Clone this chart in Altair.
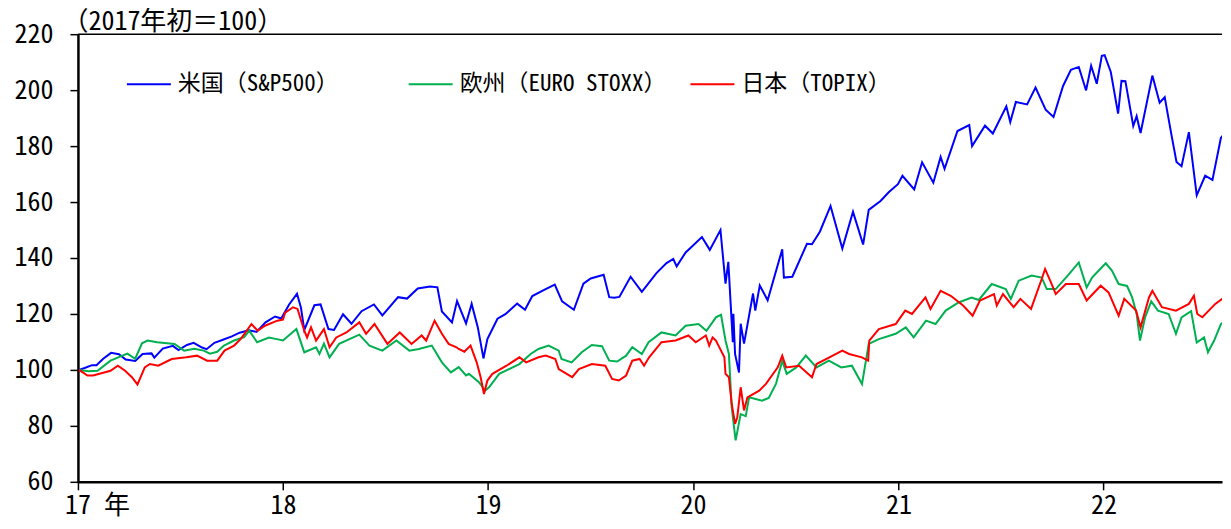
import altair as alt
import pandas as pd

FONT = "Noto Sans Mono CJK JP, Noto Sans CJK JP"

names = ["米国（S&P500）", "欧州（EURO STOXX）", "日本（TOPIX）"]
colors = ["#0000FF", "#00B050", "#FF0000"]
y_ticks = [60, 80, 100, 120, 140, 160, 180, 200, 220]
frame_top = [220]

us_dates = ["2017-01-03", "2017-01-13", "2017-01-26", "2017-02-03", "2017-02-15", "2017-03-01", "2017-03-15",
            "2017-03-27", "2017-04-13", "2017-04-26", "2017-05-12", "2017-05-17", "2017-06-01", "2017-06-19",
            "2017-06-29", "2017-07-14", "2017-07-26", "2017-08-10", "2017-08-18", "2017-09-01", "2017-09-15",
            "2017-10-02", "2017-10-16", "2017-11-01", "2017-11-15", "2017-12-01", "2017-12-18", "2017-12-29",
            "2018-01-12", "2018-01-26", "2018-02-02", "2018-02-08", "2018-02-26", "2018-03-09", "2018-03-23",
            "2018-04-02", "2018-04-18", "2018-05-03", "2018-05-21", "2018-06-12", "2018-06-27", "2018-07-25",
            "2018-08-10", "2018-08-29", "2018-09-20", "2018-10-03", "2018-10-11", "2018-10-29", "2018-11-07",
            "2018-11-23", "2018-12-03", "2018-12-14", "2018-12-24", "2018-12-31", "2019-01-18", "2019-02-01",
            "2019-02-22", "2019-03-08", "2019-03-21", "2019-04-12", "2019-04-30", "2019-05-13", "2019-06-03",
            "2019-06-20", "2019-07-03", "2019-07-26", "2019-08-05", "2019-08-14", "2019-08-23", "2019-09-12",
            "2019-10-02", "2019-10-28", "2019-11-15", "2019-11-27", "2019-12-03", "2019-12-19", "2019-12-27",
            "2020-01-17", "2020-01-31", "2020-02-19", "2020-02-28", "2020-03-04", "2020-03-12", "2020-03-13",
            "2020-03-16", "2020-03-23", "2020-03-26", "2020-04-01", "2020-04-17", "2020-04-21", "2020-04-29",
            "2020-05-13", "2020-06-08", "2020-06-11", "2020-06-26", "2020-07-22", "2020-07-31", "2020-08-14",
            "2020-09-02", "2020-09-23", "2020-10-12", "2020-10-30", "2020-11-09", "2020-11-30", "2020-12-15",
            "2020-12-31", "2021-01-08", "2021-01-29", "2021-02-12", "2021-03-04", "2021-03-17", "2021-03-24",
            "2021-04-16", "2021-05-07", "2021-05-12", "2021-06-04", "2021-06-18", "2021-07-12", "2021-07-19",
            "2021-07-29", "2021-08-18", "2021-09-02", "2021-09-20", "2021-10-04", "2021-10-21", "2021-11-04",
            "2021-11-18", "2021-12-01", "2021-12-10", "2021-12-20", "2021-12-29", "2022-01-03", "2022-01-14",
            "2022-01-27", "2022-02-02", "2022-02-09", "2022-02-23", "2022-03-01", "2022-03-08", "2022-03-29",
            "2022-04-11", "2022-04-20", "2022-05-02", "2022-05-11", "2022-05-20", "2022-06-02", "2022-06-16",
            "2022-07-01", "2022-07-14", "2022-07-29", "2022-08-11", "2022-08-16"]
us_vals = [100.0, 100.7, 101.7, 101.7, 104.0, 106.1, 105.6,
           103.7, 103.2, 105.7, 105.9, 104.4, 107.6, 108.6,
           107.1, 108.9, 109.7, 108.0, 107.4, 109.7, 110.7,
           112.0, 113.3, 114.2, 113.6, 117.0, 119.1, 118.4,
           123.4, 127.2, 122.3, 114.3, 123.1, 123.4, 114.6,
           114.3, 119.9, 116.5, 121.0, 123.4, 119.5, 126.0,
           125.5, 129.1, 129.8, 129.5, 120.9, 117.0, 124.6,
           116.6, 123.6, 115.2, 104.1, 111.0, 118.3, 119.9,
           123.7, 121.5, 126.4, 128.7, 130.5, 124.5, 121.5,
           130.8, 132.7, 134.0, 126.0, 125.8, 126.1, 133.3,
           127.9, 134.6, 138.2, 139.7, 137.0, 142.0, 143.5,
           147.5, 142.9, 150.0, 130.8, 138.6, 109.9, 120.1,
           105.7, 99.1, 116.5, 109.4, 127.3, 121.2, 130.2,
           124.9, 143.1, 133.0, 133.3, 145.1, 144.9, 149.4,
           158.6, 143.4, 156.5, 144.8, 157.2, 160.4, 163.6,
           166.4, 169.4, 164.5, 174.2, 166.9, 176.1, 171.9,
           185.4, 187.5, 180.0, 187.3, 184.5, 194.2, 188.6,
           195.8, 194.9, 200.9, 193.0, 190.4, 201.5, 207.3,
           208.3, 199.9, 208.7, 202.3, 212.3, 212.5, 206.5,
           191.6, 203.3, 203.2, 187.2, 190.7, 184.7, 205.2,
           195.5, 197.5, 184.0, 174.3, 172.8, 185.0, 162.4,
           169.4, 167.9, 182.9, 186.3, 190.7]

eu_dates = ["2017-01-03", "2017-01-20", "2017-02-05", "2017-02-28", "2017-03-30", "2017-04-13", "2017-04-25",
            "2017-05-05", "2017-05-22", "2017-06-22", "2017-07-09", "2017-07-27", "2017-08-13", "2017-08-24",
            "2017-09-06", "2017-09-18", "2017-10-06", "2017-10-24", "2017-11-02", "2017-11-16", "2017-12-07",
            "2017-12-21", "2018-01-01", "2018-01-25", "2018-02-08", "2018-03-01", "2018-03-07", "2018-03-15",
            "2018-03-25", "2018-04-11", "2018-05-17", "2018-06-04", "2018-06-27", "2018-07-22", "2018-08-14",
            "2018-08-31", "2018-09-23", "2018-10-11", "2018-10-27", "2018-11-10", "2018-11-23", "2018-11-28",
            "2018-12-16", "2018-12-27", "2019-01-03", "2019-01-21", "2019-02-26", "2019-03-18", "2019-04-01",
            "2019-04-19", "2019-05-07", "2019-05-12", "2019-05-30", "2019-06-17", "2019-07-05", "2019-07-23",
            "2019-08-05", "2019-08-19", "2019-09-04", "2019-09-15", "2019-10-02", "2019-10-14", "2019-11-06",
            "2019-12-01", "2019-12-19", "2020-01-11", "2020-01-25", "2020-02-11", "2020-02-20", "2020-02-28",
            "2020-03-05", "2020-03-10", "2020-03-17", "2020-03-26", "2020-04-04", "2020-04-10", "2020-05-03",
            "2020-05-15", "2020-05-28", "2020-06-08", "2020-06-16", "2020-07-03", "2020-07-20", "2020-08-08",
            "2020-08-30", "2020-09-21", "2020-10-10", "2020-10-28", "2020-11-09", "2020-11-27", "2020-12-27",
            "2021-01-14", "2021-01-28", "2021-02-19", "2021-03-08", "2021-03-26", "2021-04-18", "2021-05-11",
            "2021-05-24", "2021-06-16", "2021-07-11", "2021-07-20", "2021-08-03", "2021-08-26", "2021-09-13",
            "2021-09-22", "2021-10-08", "2021-11-01", "2021-11-18", "2021-12-02", "2021-12-12", "2022-01-05",
            "2022-01-16", "2022-01-28", "2022-02-12", "2022-02-21", "2022-03-01", "2022-03-07", "2022-03-16",
            "2022-03-27", "2022-04-08", "2022-04-27", "2022-05-10", "2022-05-20", "2022-06-06", "2022-06-16",
            "2022-06-29", "2022-07-06", "2022-07-17", "2022-07-29", "2022-08-12"]
eu_vals = [100.0, 99.5, 99.7, 103.3, 105.8, 104.0, 109.5,
           110.5, 109.9, 109.3, 106.9, 107.6, 106.9, 105.8,
           106.5, 108.7, 110.5, 111.7, 114.0, 109.9, 111.6,
           111.0, 110.5, 114.6, 106.3, 108.1, 105.7, 109.4,
           104.5, 109.3, 112.6, 108.7, 106.9, 110.5, 106.9,
           107.5, 108.7, 102.7, 99.1, 101.0, 98.0, 98.6,
           95.6, 92.6, 93.8, 98.6, 102.1, 105.7, 107.5,
           108.7, 106.9, 103.9, 102.7, 106.3, 108.9, 108.5,
           103.3, 103.0, 105.1, 108.1, 105.7, 109.9, 113.4,
           112.3, 115.8, 116.4, 114.0, 118.8, 119.7, 110.5,
           105.7, 86.7, 74.8, 84.2, 83.5, 90.2, 89.0,
           90.0, 95.1, 103.3, 98.6, 100.9, 105.1, 100.9,
           103.3, 100.9, 101.5, 95.0, 109.3, 111.0, 112.9,
           115.2, 111.6, 117.6, 116.4, 121.2, 124.1, 125.9,
           125.0, 130.7, 128.9, 125.4, 131.9, 133.7, 133.0,
           128.9, 128.9, 134.3, 138.4, 129.5, 133.1, 138.1,
           135.5, 130.7, 130.0, 125.9, 120.0, 110.5, 118.8,
           124.5, 121.2, 120.0, 112.9, 118.8, 121.0, 109.8,
           111.6, 106.3, 110.5, 116.4, 118.5]

jp_dates = ["2017-01-03", "2017-01-18", "2017-01-28", "2017-02-28", "2017-03-13", "2017-03-26", "2017-04-07",
            "2017-04-17", "2017-04-30", "2017-05-09", "2017-05-24", "2017-06-17", "2017-07-13", "2017-08-01",
            "2017-08-19", "2017-09-06", "2017-09-19", "2017-10-06", "2017-10-18", "2017-11-06", "2017-11-17",
            "2017-11-30", "2017-12-22", "2018-01-01", "2018-01-05", "2018-01-19", "2018-01-27", "2018-02-08",
            "2018-02-13", "2018-02-20", "2018-03-01", "2018-03-15", "2018-03-25", "2018-04-06", "2018-04-24",
            "2018-05-17", "2018-05-29", "2018-06-13", "2018-07-06", "2018-07-28", "2018-08-18", "2018-09-05",
            "2018-09-13", "2018-09-28", "2018-10-11", "2018-10-23", "2018-11-06", "2018-11-10", "2018-11-20",
            "2018-12-01", "2018-12-12", "2018-12-19", "2018-12-25", "2018-12-31", "2019-01-09", "2019-02-03",
            "2019-02-26", "2019-03-10", "2019-04-01", "2019-04-14", "2019-05-01", "2019-05-07", "2019-05-31",
            "2019-06-12", "2019-07-05", "2019-07-29", "2019-08-10", "2019-08-22", "2019-09-04", "2019-09-15",
            "2019-09-28", "2019-10-06", "2019-10-15", "2019-11-06", "2019-12-01", "2019-12-24", "2020-01-06",
            "2020-01-24", "2020-01-30", "2020-02-05", "2020-02-11", "2020-02-20", "2020-02-26", "2020-02-28",
            "2020-03-05", "2020-03-10", "2020-03-16", "2020-03-20", "2020-03-26", "2020-04-01", "2020-04-07",
            "2020-04-28", "2020-05-10", "2020-05-31", "2020-06-08", "2020-06-15", "2020-07-08", "2020-07-31",
            "2020-08-08", "2020-08-31", "2020-09-23", "2020-10-05", "2020-10-28", "2020-11-08", "2020-11-10",
            "2020-11-27", "2020-12-27", "2021-01-13", "2021-01-25", "2021-02-18", "2021-02-27", "2021-03-17",
            "2021-04-04", "2021-04-26", "2021-05-13", "2021-05-26", "2021-06-20", "2021-06-25", "2021-07-06",
            "2021-07-25", "2021-08-06", "2021-08-25", "2021-09-13", "2021-09-19", "2021-09-30", "2021-10-08",
            "2021-10-26", "2021-11-18", "2021-12-02", "2021-12-27", "2022-01-10", "2022-01-28", "2022-02-07",
            "2022-02-28", "2022-03-08", "2022-03-23", "2022-03-29", "2022-04-15", "2022-05-10", "2022-06-02",
            "2022-06-11", "2022-06-17", "2022-06-26", "2022-07-19", "2022-08-12"]
jp_vals = [100.0, 98.0, 98.0, 99.7, 101.5, 99.7, 97.4,
           94.8, 100.9, 102.1, 101.5, 103.9, 104.5, 105.1,
           103.3, 103.3, 106.9, 108.7, 111.1, 116.4, 114.0,
           115.8, 117.6, 118.0, 120.5, 122.4, 121.8, 114.0,
           111.6, 115.2, 110.5, 114.6, 108.1, 111.6, 113.4,
           117.0, 112.9, 116.4, 109.3, 113.4, 109.3, 112.3,
           110.5, 117.6, 112.9, 109.3, 108.1, 107.5, 106.5,
           108.7, 102.7, 97.4, 91.4, 96.2, 98.6, 101.5,
           104.5, 102.7, 104.5, 105.1, 103.9, 100.3, 97.4,
           100.3, 102.1, 101.5, 96.8, 96.2, 98.0, 103.3,
           103.9, 101.5, 104.5, 109.9, 110.5, 112.3, 109.9,
           112.3, 108.7, 111.6, 110.5, 106.9, 104.5, 98.6,
           97.4, 87.9, 80.7, 83.1, 93.8, 85.5, 90.2,
           92.6, 95.0, 100.9, 105.1, 100.9, 101.5, 97.4,
           102.1, 104.5, 106.9, 105.7, 104.5, 103.3, 110.5,
           114.6, 116.4, 121.2, 120.0, 125.9, 121.8, 128.3,
           126.5, 123.0, 119.4, 124.8, 127.1, 123.0, 127.1,
           122.4, 125.4, 121.8, 132.5, 136.1, 131.0, 127.1,
           130.7, 130.7, 124.8, 130.1, 127.7, 119.4, 125.4,
           121.2, 115.2, 125.9, 128.3, 122.4, 121.2, 123.6,
           126.5, 120.0, 118.8, 123.6, 127.1]

rows = []
for k, (name, ds, vs) in enumerate(zip(names, [us_dates, eu_dates, jp_dates], [us_vals, eu_vals, jp_vals])):
    for d, v in zip(ds, vs):
        rows.append({"date": d, "value": v, "series": name, "k": k})
df = pd.DataFrame(rows)

x_ticks = [alt.DateTime(year=y, month=1, date=1) for y in range(2017, 2023)]
x_domain = [alt.DateTime(year=2017, month=1, date=1), alt.DateTime(year=2022, month=7, date=31)]

y_scale = alt.Scale(domain=[60, 220], nice=False, zero=False)
y_axis = alt.Axis(values=y_ticks, grid=False, title="（2017年初＝100）",
                  titleAngle=0, titleAlign="left", titleBaseline="alphabetic",
                  titleX=-16, titleY=-5, titleFontSize=26, titleFont=FONT,
                  titleFontWeight="normal", titleColor="black",
                  labelFontSize=26, labelFont=FONT, labelColor="black", labelPadding=17,
                  tickSize=8, tickWidth=1.5, tickColor="black",
                  domainColor="black", domainWidth=2.5)

lines = alt.Chart(df).mark_line(strokeWidth=2, clip=True).encode(
    x=alt.X("date:T", title=None,
            scale=alt.Scale(domain=x_domain),
            axis=alt.Axis(values=x_ticks, grid=False,
                          labelExpr="year(datum.value) == 2017 ? '17 年' : timeFormat(datum.value, '%y')",
                          labelFlush=False,
                          labelOffset={"condition": {"test": "year(datum.value) == 2017", "value": 19}, "value": 0},
                          labelFontSize=26, labelFont=FONT, labelColor="black", labelPadding=3,
                          tickSize=8, tickWidth=1.5, tickColor="black",
                          domainColor="black", domainWidth=2.5)),
    y=alt.Y("value:Q", scale=y_scale, axis=y_axis),
    color=alt.Color("series:N",
                    scale=alt.Scale(domain=names, range=colors),
                    legend=alt.Legend(title=None, orient="none", legendX=48, legendY=27,
                                      direction="horizontal", symbolType="stroke",
                                      symbolSize=1936, symbolStrokeWidth=2,
                                      labelFontSize=23, labelFont=FONT, labelColor="black",
                                      labelOffset=6, columnPadding=20, gridAlign="all",
                                      labelLimit=0)),
    detail="k:O",
)

top_rule = alt.Chart(pd.DataFrame({"top": frame_top})).mark_rule(color="black", strokeWidth=1.5).encode(
    y=alt.Y("top:Q", scale=y_scale, axis=y_axis)
)

chart = alt.layer(lines, top_rule).properties(
    width=1145, height=448,
    padding={"left": 5, "top": 0, "right": 0, "bottom": 3},
    background="white",
).configure_view(stroke=None)

chart.save("out.html", embed_options={"renderer": "svg", "actions": False})
